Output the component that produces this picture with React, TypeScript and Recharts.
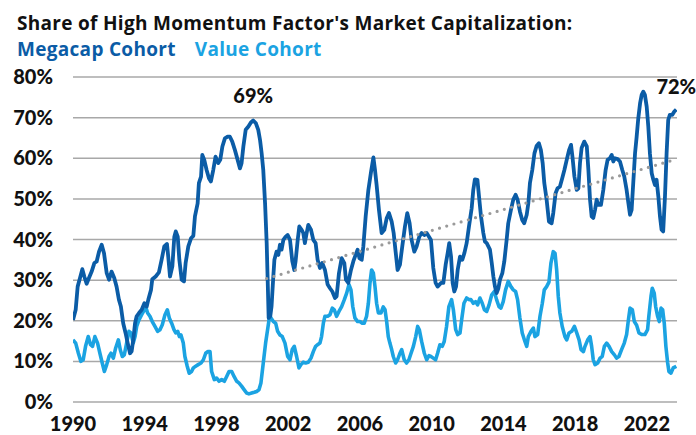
import React from 'react';
import {
  LineChart,
  Line,
  XAxis,
  YAxis,
  CartesianGrid,
  ReferenceDot,
} from 'recharts';

// [decimal year, share of high momentum market cap in %]
const megacap: [number, number][] = [
  [1990.0, 20.2], [1990.15, 22.7], [1990.26, 28.4], [1990.39, 30.5], [1990.52, 32.7], [1990.63, 30.9],
  [1990.76, 29.1], [1990.89, 30.5], [1991.04, 32.1], [1991.19, 34.2], [1991.32, 34.6], [1991.45, 37.0],
  [1991.6, 38.7], [1991.73, 36.6], [1991.88, 31.7], [1992.01, 30.1], [1992.15, 32.1], [1992.3, 30.5],
  [1992.43, 28.4], [1992.56, 25.2], [1992.67, 23.5], [1992.8, 19.4], [1992.93, 17.0], [1993.05, 14.5],
  [1993.18, 12.0], [1993.27, 12.5], [1993.36, 15.3], [1993.46, 19.4], [1993.55, 21.1], [1993.68, 21.9],
  [1993.83, 22.7], [1993.98, 24.3], [1994.11, 23.5], [1994.2, 25.2], [1994.35, 27.6], [1994.42, 30.2],
  [1994.61, 30.9], [1994.79, 31.9], [1994.94, 35.0], [1995.09, 38.3], [1995.24, 38.9], [1995.31, 35.8],
  [1995.41, 30.9], [1995.54, 33.4], [1995.65, 40.7], [1995.73, 42.0], [1995.84, 40.7], [1995.93, 35.0],
  [1996.06, 30.1], [1996.19, 29.7], [1996.28, 34.2], [1996.43, 38.3], [1996.58, 40.3], [1996.71, 40.9],
  [1996.8, 45.7], [1996.95, 48.9], [1997.02, 53.9], [1997.14, 55.5], [1997.21, 60.8], [1997.32, 59.6],
  [1997.45, 57.1], [1997.58, 55.1], [1997.69, 54.3], [1997.82, 57.1], [1997.95, 60.4], [1998.1, 58.8],
  [1998.21, 59.6], [1998.33, 62.9], [1998.47, 64.9], [1998.62, 65.3], [1998.75, 65.3], [1998.88, 64.1],
  [1999.03, 62.0], [1999.18, 59.6], [1999.31, 57.5], [1999.4, 58.8], [1999.5, 62.9], [1999.63, 67.0],
  [1999.78, 67.8], [1999.92, 68.8], [2000.05, 69.3], [2000.2, 68.6], [2000.33, 67.0], [2000.43, 64.5],
  [2000.52, 61.2], [2000.61, 57.1], [2000.71, 48.9], [2000.8, 39.1], [2000.85, 30.9], [2000.91, 20.7],
  [2001.0, 21.1], [2001.07, 23.5], [2001.17, 30.9], [2001.23, 35.0], [2001.35, 37.0], [2001.45, 36.2],
  [2001.54, 38.7], [2001.63, 37.5], [2001.73, 39.9], [2001.86, 40.7], [2001.97, 41.1], [2002.1, 39.9],
  [2002.23, 34.6], [2002.34, 32.5], [2002.41, 34.6], [2002.53, 39.9], [2002.62, 43.2], [2002.75, 42.4],
  [2002.84, 41.6], [2002.93, 39.1], [2003.03, 41.6], [2003.12, 43.6], [2003.27, 42.4], [2003.4, 39.9],
  [2003.53, 39.1], [2003.64, 35.0], [2003.77, 33.0], [2003.9, 34.2], [2004.05, 32.5], [2004.2, 28.9],
  [2004.33, 28.0], [2004.46, 27.2], [2004.61, 25.6], [2004.7, 26.0], [2004.83, 31.7], [2004.98, 35.4],
  [2005.13, 34.2], [2005.22, 30.1], [2005.35, 29.3], [2005.5, 32.5], [2005.63, 34.6], [2005.76, 36.2],
  [2005.87, 37.5], [2005.97, 35.4], [2006.1, 35.0], [2006.19, 38.3], [2006.32, 45.7], [2006.47, 52.2],
  [2006.62, 56.7], [2006.75, 60.2], [2006.84, 57.1], [2006.93, 53.4], [2007.06, 47.3], [2007.21, 41.6],
  [2007.36, 42.4], [2007.49, 45.2], [2007.62, 46.5], [2007.77, 44.4], [2007.88, 41.6], [2007.99, 37.0],
  [2008.1, 32.5], [2008.23, 33.8], [2008.36, 38.3], [2008.51, 43.2], [2008.64, 46.5], [2008.77, 44.0],
  [2008.88, 39.9], [2009.03, 37.0], [2009.16, 38.3], [2009.31, 40.7], [2009.44, 41.6], [2009.59, 41.1],
  [2009.72, 41.6], [2009.85, 40.7], [2009.96, 39.9], [2010.09, 33.0], [2010.22, 29.3], [2010.33, 28.4],
  [2010.52, 29.3], [2010.65, 29.3], [2010.78, 33.8], [2010.89, 36.6], [2010.98, 39.1], [2011.08, 35.8],
  [2011.17, 29.3], [2011.26, 27.2], [2011.36, 28.4], [2011.45, 32.5], [2011.58, 35.8], [2011.71, 35.0],
  [2011.82, 36.6], [2011.95, 39.1], [2012.08, 43.2], [2012.23, 47.7], [2012.32, 52.2], [2012.41, 54.8],
  [2012.55, 54.7], [2012.64, 50.6], [2012.75, 45.7], [2012.88, 41.6], [2012.97, 39.5], [2013.07, 39.1],
  [2013.16, 38.3], [2013.25, 37.5], [2013.35, 34.2], [2013.44, 30.9], [2013.53, 28.4], [2013.62, 26.8],
  [2013.72, 28.0], [2013.81, 30.1], [2013.94, 31.7], [2014.05, 34.6], [2014.18, 39.9], [2014.27, 44.0],
  [2014.42, 47.3], [2014.55, 49.8], [2014.68, 51.0], [2014.79, 49.8], [2014.92, 46.9], [2015.05, 44.8],
  [2015.16, 44.0], [2015.3, 46.1], [2015.39, 48.9], [2015.48, 53.9], [2015.61, 57.1], [2015.73, 61.2],
  [2015.85, 63.0], [2015.98, 63.7], [2016.09, 62.0], [2016.19, 58.8], [2016.28, 53.9], [2016.41, 49.8],
  [2016.54, 44.4], [2016.69, 44.0], [2016.78, 46.5], [2016.91, 51.4], [2017.02, 52.6], [2017.15, 53.0],
  [2017.28, 55.1], [2017.4, 57.1], [2017.53, 59.6], [2017.66, 62.0], [2017.77, 63.3], [2017.85, 60.4],
  [2017.96, 55.5], [2018.09, 52.2], [2018.18, 52.6], [2018.27, 58.8], [2018.36, 62.5], [2018.51, 64.1],
  [2018.65, 62.9], [2018.74, 57.1], [2018.83, 49.8], [2018.92, 45.7], [2019.01, 45.3], [2019.11, 47.3],
  [2019.2, 49.8], [2019.29, 48.5], [2019.44, 48.5], [2019.57, 52.2], [2019.7, 57.1], [2019.81, 59.6],
  [2019.94, 60.0], [2020.04, 60.8], [2020.13, 59.2], [2020.22, 60.0], [2020.37, 59.8], [2020.5, 59.2],
  [2020.63, 57.1], [2020.74, 55.5], [2020.87, 52.2], [2020.97, 48.9], [2021.06, 46.1], [2021.15, 47.3],
  [2021.24, 53.9], [2021.34, 61.2], [2021.43, 65.3], [2021.52, 69.8], [2021.62, 73.5], [2021.71, 75.6],
  [2021.8, 76.4], [2021.89, 75.6], [2021.99, 72.7], [2022.08, 67.8], [2022.17, 61.2], [2022.27, 56.3],
  [2022.36, 54.7], [2022.45, 53.4], [2022.54, 54.7], [2022.64, 50.6], [2022.73, 45.7], [2022.82, 42.4],
  [2022.91, 42.0], [2023.01, 50.6], [2023.1, 61.2], [2023.19, 69.4], [2023.28, 70.7], [2023.42, 70.7],
  [2023.53, 71.5], [2023.64, 72.0],
];

const valueCohort: [number, number][] = [
  [1990.0, 15.3], [1990.15, 14.5], [1990.3, 12.0], [1990.44, 10.0], [1990.57, 10.4], [1990.7, 13.7],
  [1990.85, 16.1], [1990.98, 14.1], [1991.09, 13.7], [1991.22, 16.1], [1991.37, 14.5], [1991.5, 12.0],
  [1991.63, 9.6], [1991.75, 7.5], [1991.88, 9.2], [1992.01, 11.2], [1992.12, 12.0], [1992.25, 10.8],
  [1992.38, 13.3], [1992.53, 15.3], [1992.64, 12.8], [1992.75, 11.2], [1992.86, 11.6], [1992.99, 14.5],
  [1993.12, 17.4], [1993.23, 17.0], [1993.36, 14.5], [1993.46, 16.1], [1993.55, 18.6], [1993.68, 20.2],
  [1993.83, 21.5], [1993.98, 22.7], [1994.05, 23.5], [1994.16, 21.9], [1994.29, 21.1], [1994.42, 19.8],
  [1994.57, 18.6], [1994.72, 17.4], [1994.85, 17.8], [1994.98, 19.0], [1995.13, 21.5], [1995.26, 22.7],
  [1995.37, 20.7], [1995.5, 19.4], [1995.63, 17.8], [1995.73, 17.0], [1995.84, 17.4], [1995.93, 16.1],
  [1996.02, 16.5], [1996.15, 14.5], [1996.24, 11.2], [1996.37, 8.8], [1996.48, 7.1], [1996.61, 7.5],
  [1996.71, 8.4], [1996.84, 8.8], [1996.98, 9.2], [1997.14, 9.6], [1997.27, 10.4], [1997.4, 12.0],
  [1997.51, 12.4], [1997.64, 12.4], [1997.73, 7.5], [1997.88, 5.5], [1998.01, 5.9], [1998.14, 5.1],
  [1998.29, 5.5], [1998.44, 5.1], [1998.57, 6.3], [1998.7, 7.5], [1998.85, 7.5], [1998.98, 6.3],
  [1999.13, 5.1], [1999.25, 4.7], [1999.4, 3.9], [1999.55, 3.0], [1999.68, 2.2], [1999.81, 2.0],
  [1999.96, 2.2], [2000.11, 2.4], [2000.24, 2.6], [2000.37, 3.0], [2000.48, 4.7], [2000.61, 9.6],
  [2000.74, 14.5], [2000.85, 17.8], [2000.93, 20.2], [2001.04, 20.7], [2001.17, 19.8], [2001.3, 19.4],
  [2001.41, 17.4], [2001.54, 16.5], [2001.67, 16.1], [2001.82, 14.5], [2001.97, 11.2], [2002.1, 10.4],
  [2002.23, 13.0], [2002.34, 13.7], [2002.47, 11.2], [2002.6, 8.4], [2002.71, 9.2], [2002.84, 9.8],
  [2002.97, 9.6], [2003.12, 9.8], [2003.27, 10.8], [2003.4, 12.4], [2003.53, 13.7], [2003.64, 14.1],
  [2003.77, 14.5], [2003.86, 16.1], [2003.96, 19.4], [2004.05, 21.1], [2004.2, 21.1], [2004.33, 21.5],
  [2004.46, 23.1], [2004.57, 22.7], [2004.7, 21.1], [2004.83, 22.3], [2004.98, 23.5], [2005.13, 25.2],
  [2005.26, 26.8], [2005.39, 28.9], [2005.5, 27.6], [2005.6, 23.5], [2005.72, 20.7], [2005.87, 19.8],
  [2006.0, 19.8], [2006.13, 19.4], [2006.24, 19.4], [2006.37, 21.1], [2006.47, 24.3], [2006.56, 29.3],
  [2006.65, 32.5], [2006.75, 31.7], [2006.84, 28.4], [2006.93, 24.3], [2007.03, 21.9], [2007.17, 21.9],
  [2007.3, 23.4], [2007.4, 22.7], [2007.49, 19.8], [2007.58, 16.1], [2007.67, 14.5], [2007.77, 12.9],
  [2007.86, 11.2], [2007.99, 9.6], [2008.1, 10.4], [2008.23, 12.0], [2008.33, 12.9], [2008.47, 10.4],
  [2008.6, 9.6], [2008.73, 10.4], [2008.85, 12.0], [2008.98, 13.7], [2009.11, 16.1], [2009.22, 18.6],
  [2009.31, 17.8], [2009.44, 14.9], [2009.59, 12.0], [2009.72, 10.4], [2009.85, 11.4], [2009.96, 11.2],
  [2010.09, 10.8], [2010.22, 10.4], [2010.33, 12.0], [2010.46, 14.1], [2010.59, 13.7], [2010.7, 14.9],
  [2010.83, 18.6], [2010.96, 23.5], [2011.11, 25.2], [2011.21, 22.7], [2011.34, 17.8], [2011.45, 16.6],
  [2011.58, 17.0], [2011.67, 20.2], [2011.8, 24.3], [2011.95, 25.6], [2012.08, 25.2], [2012.19, 25.2],
  [2012.32, 24.3], [2012.45, 24.7], [2012.56, 23.9], [2012.69, 25.6], [2012.82, 24.3], [2012.94, 22.7],
  [2013.07, 22.3], [2013.2, 23.9], [2013.35, 26.4], [2013.49, 27.2], [2013.62, 25.2], [2013.75, 23.5],
  [2013.86, 23.1], [2013.99, 24.7], [2014.12, 27.6], [2014.27, 29.7], [2014.42, 28.4], [2014.55, 27.6],
  [2014.68, 27.2], [2014.79, 25.2], [2014.92, 20.7], [2015.05, 17.0], [2015.2, 14.9], [2015.3, 13.7],
  [2015.39, 16.1], [2015.54, 17.4], [2015.67, 18.2], [2015.76, 16.1], [2015.91, 16.6], [2016.04, 21.1],
  [2016.17, 24.3], [2016.28, 27.6], [2016.41, 28.4], [2016.54, 29.5], [2016.65, 34.2], [2016.78, 37.0],
  [2016.88, 36.6], [2016.97, 32.5], [2017.06, 26.0], [2017.15, 21.9], [2017.28, 18.6], [2017.43, 16.1],
  [2017.53, 15.3], [2017.66, 17.0], [2017.81, 17.4], [2017.96, 18.6], [2018.09, 17.0], [2018.22, 15.3],
  [2018.33, 12.9], [2018.46, 12.4], [2018.55, 13.7], [2018.7, 15.3], [2018.83, 16.1], [2018.92, 13.7],
  [2019.01, 10.4], [2019.11, 9.2], [2019.26, 9.6], [2019.39, 10.8], [2019.51, 11.2], [2019.63, 13.7],
  [2019.76, 14.5], [2019.89, 13.7], [2020.04, 12.4], [2020.19, 11.6], [2020.31, 10.8], [2020.44, 11.2],
  [2020.59, 12.9], [2020.74, 14.5], [2020.87, 16.6], [2020.97, 20.2], [2021.06, 23.1], [2021.19, 22.7],
  [2021.3, 19.8], [2021.43, 18.9], [2021.56, 17.0], [2021.71, 16.6], [2021.89, 16.6], [2022.04, 17.8],
  [2022.11, 21.1], [2022.23, 26.0], [2022.3, 28.0], [2022.41, 26.8], [2022.49, 23.5], [2022.6, 21.1],
  [2022.69, 19.8], [2022.79, 23.1], [2022.88, 22.7], [2022.97, 19.4], [2023.06, 13.7], [2023.16, 9.6],
  [2023.23, 7.5], [2023.34, 7.1], [2023.47, 8.4], [2023.64, 8.8],
];

// dotted trend on the megacap share since 2001
const megacapTrend: [number, number][] = [
  [2000.8, 30.4],
  [2023.68, 59.8],
];

const yearTicks = [1990, 1994, 1998, 2002, 2006, 2010, 2014, 2018, 2022];
const pctTicks = [0, 10, 20, 30, 40, 50, 60, 70, 80];

const peak2000 = { year: 2000.05, pct: 69.3, label: '69%' };
const latest = { year: 2023.64, pct: 72.0, label: '72%' };

const DARK = '#0b5ca6';
const LIGHT = '#1ba3e2';
const FONT = 'Lato, "Open Sans", sans-serif';
const TITLE_FONT = '"Open Sans", Lato, sans-serif';

const toRows = (pts: [number, number][]) => pts.map(([year, v]) => ({ year, v }));

export default function App() {
  const megaRows = toRows(megacap);
  const valueRows = toRows(valueCohort);
  const trendRows = toRows(megacapTrend);

  const labelStyle = { fill: '#111', fontSize: 20, fontWeight: 900, fontFamily: FONT };
  const titleText = {
    position: 'absolute' as const,
    left: 17,
    height: 22,
    fontSize: 19,
    fontWeight: 700,
    lineHeight: '22px',
    whiteSpace: 'nowrap' as const,
    letterSpacing: 0.3,
  };

  return (
    <div
      style={{
        position: 'absolute',
        left: 0,
        top: 0,
        width: 696,
        height: 435,
        background: '#fff',
        fontFamily: TITLE_FONT,
      }}
    >
      <div style={{ ...titleText, top: 11.5, color: '#111' }}>
        Share of High Momentum Factor's Market Capitalization:
      </div>
      <div style={{ ...titleText, top: 38 }}>
        <span style={{ color: DARK }}>Megacap Cohort</span>
        <span style={{ color: LIGHT, marginLeft: 19 }}>Value Cohort</span>
      </div>

      <div style={{ position: 'absolute', left: 0, top: 0 }}>
        <LineChart width={696} height={435} margin={{ top: 77, right: 19, bottom: 0, left: 0 }}>
          <CartesianGrid vertical={false} stroke="#a8a8a8" strokeWidth={1.5} />
          <XAxis
            type="number"
            dataKey="year"
            domain={[1990, 2023.68]}
            ticks={yearTicks}
            allowDataOverflow
            axisLine={false}
            tickLine={false}
            height={33}
            interval={0}
            tick={(p: any) => (
              <text x={p.x} y={431} textAnchor="middle" fill="#111" fontSize={20} fontWeight={900} fontFamily={FONT}>
                {p.payload.value}
              </text>
            )}
          />
          <YAxis
            type="number"
            domain={[0, 80]}
            ticks={pctTicks}
            axisLine={false}
            tickLine={false}
            width={73}
            interval={0}
            tick={(p: any) => (
              <text x={53} y={p.y + 7} textAnchor="end" fill="#111" fontSize={20} fontWeight={900} fontFamily={FONT}>
                {`${p.payload.value}%`}
              </text>
            )}
          />
          <Line
            data={valueRows}
            dataKey="v"
            stroke={LIGHT}
            strokeWidth={3.6}
            dot={false}
            strokeLinejoin="round"
            isAnimationActive={false}
          />
          <Line
            data={megaRows}
            dataKey="v"
            stroke={DARK}
            strokeWidth={3.8}
            dot={false}
            strokeLinejoin="round"
            isAnimationActive={false}
          />
          <Line
            data={trendRows}
            dataKey="v"
            stroke="#9a9a9a"
            strokeWidth={3.2}
            strokeDasharray="0 7.5"
            strokeLinecap="round"
            dot={false}
            isAnimationActive={false}
          />
          <ReferenceDot
            x={peak2000.year}
            y={peak2000.pct}
            r={0}
            label={{ value: peak2000.label, position: 'top', offset: 17, ...labelStyle }}
          />
          <ReferenceDot
            x={latest.year}
            y={latest.pct}
            r={0}
            label={{ value: latest.label, position: 'top', offset: 16, ...labelStyle }}
          />
        </LineChart>
      </div>
    </div>
  );
}
